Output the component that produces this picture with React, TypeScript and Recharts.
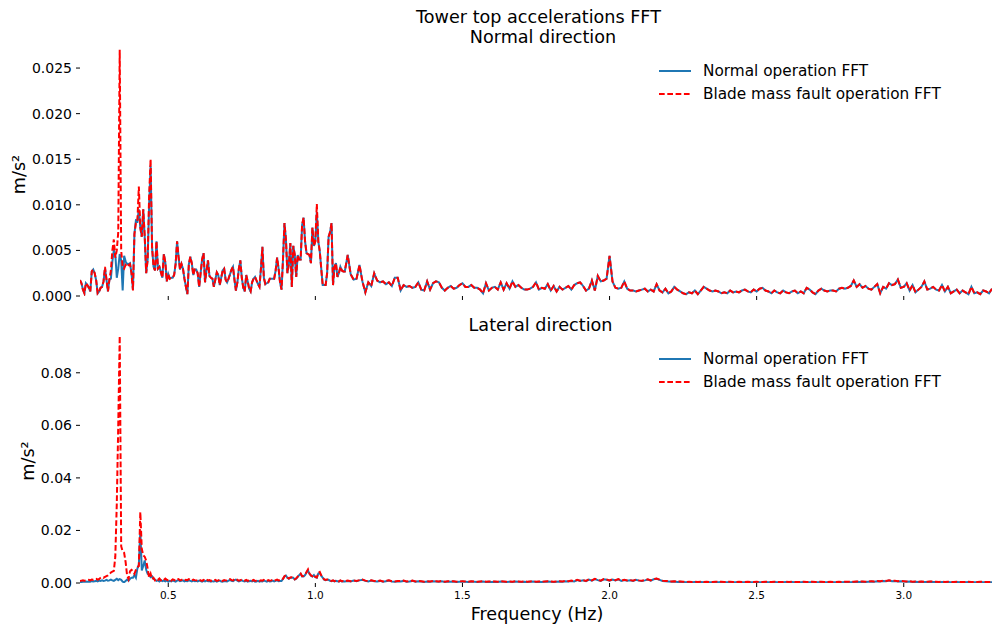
import { LineChart, Line, XAxis, YAxis, Legend } from 'recharts';

// FFT bins: 0.005 Hz up to 1.10 Hz, then 0.01 Hz up to 3.30 Hz
const FINE_START = 0.2;
const FINE_STEP = 0.005;
const FINE_COUNT = 181;
const COARSE_START = 1.11;
const COARSE_STEP = 0.01;
const COARSE_COUNT = 220;

const FREQ: number[] = [
  ...Array.from({ length: FINE_COUNT }, (_, i) => +(FINE_START + i * FINE_STEP).toFixed(3)),
  ...Array.from({ length: COARSE_COUNT }, (_, i) => +(COARSE_START + i * COARSE_STEP).toFixed(2)),
];

const X_TICKS = [0.5, 1.0, 1.5, 2.0, 2.5, 3.0];
const TOP_Y_TICKS = [0, 5, 10, 15, 20, 25];
const LAT_Y_TICKS = [0, 20, 40, 60, 80];

// amplitudes in 1e-3 m/s²
const TOP_NORMAL = [
  1.75, 1.4, 0.7, 0.3, 1.4, 1.2, 0.9, 0.5, 2.7, 2.9,
  2.5, 1.7, 0.3, 0.5, 0.9, 1.0, 1.6, 3.0, 1.8, 0.5,
  1.8, 1.9, 3.8, 5.0, 4.6, 2.0, 3.0, 4.6, 3.9, 0.6,
  4.4, 3.8, 3.5, 3.5, 3.6, 2.5, 0.7, 6.8, 8.3, 8.2,
  9.5, 7.5, 6.5, 9.5, 6.5, 2.5, 4.0, 10.0, 14.3, 5.3,
  3.2, 2.8, 6.0, 3.0, 3.2, 2.6, 2.0, 4.6, 3.7, 1.6,
  2.4, 1.9, 2.0, 2.0, 2.3, 3.5, 6.0, 4.3, 2.9, 3.5,
  3.0, 1.9, 1.0, 0.2, 3.5, 4.3, 3.6, 2.3, 2.9, 2.9,
  2.5, 1.0, 2.5, 4.0, 4.7, 1.5, 2.8, 3.9, 2.2, 2.0,
  1.9, 1.0, 1.8, 2.6, 2.3, 1.2, 2.0, 2.8, 3.0, 1.8,
  1.5, 1.9, 2.4, 2.9, 3.2, 1.8, 0.6, 1.5, 3.0, 3.9,
  2.0, 0.9, 0.5, 2.3, 1.6, 0.8, 0.5, 1.5, 1.9, 2.1,
  1.7, 1.3, 1.0, 3.0, 5.4, 2.0, 1.3, 1.4, 1.5, 1.9,
  1.9, 1.9, 1.9, 2.8, 4.2, 3.0, 1.5, 0.7, 4.0, 8.0,
  6.2, 2.5, 3.5, 5.8, 1.0, 5.5, 4.5, 2.1, 4.5, 4.0,
  4.0, 7.8, 8.6, 6.0, 4.7, 4.6, 4.5, 3.6, 7.5, 5.5,
  6.0, 9.2, 6.0, 4.9, 3.0, 1.2, 1.2, 1.2, 2.5, 6.5,
  7.0, 8.0, 1.2, 3.2, 3.6, 2.1, 2.5, 3.2, 2.8, 2.7, 2.7,
  // 1.11 Hz onwards
  4.5, 2.4, 1.8, 1.9, 3.4, 1.6, 0.4, 1.5, 1.1, 2.5,
  1.7, 1.5, 1.6, 1.3, 1.5, 1.1, 2.0, 2.0, 0.6, 1.2,
  1.0, 1.1, 0.9, 1.0, 1.5, 0.7, 0.6, 1.6, 0.7, 1.4,
  1.6, 1.5, 0.9, 0.6, 0.9, 1.1, 0.8, 0.9, 1.2, 1.4,
  1.0, 1.0, 1.2, 0.9, 0.9, 0.7, 0.3, 1.4, 0.6, 0.9,
  1.0, 0.7, 1.5, 0.7, 1.4, 0.8, 1.6, 1.0, 1.2, 0.9,
  0.7, 0.7, 0.8, 1.0, 1.5, 0.7, 0.9, 0.8, 1.3, 0.6,
  1.1, 0.5, 1.0, 0.7, 0.9, 1.1, 0.7, 1.2, 1.4, 1.5,
  1.1, 0.6, 0.8, 1.7, 0.6, 2.2, 1.6, 1.7, 1.9, 4.4,
  1.6, 0.9, 0.8, 0.9, 1.6, 0.8, 0.6, 0.6, 0.5, 0.6,
  0.7, 0.8, 0.5, 0.7, 0.5, 1.3, 0.6, 0.4, 0.8, 0.3,
  0.5, 1.0, 0.7, 0.5, 0.3, 0.2, 0.4, 0.3, 0.6, 0.2,
  0.6, 1.0, 0.8, 0.6, 0.5, 0.6, 0.5, 0.3, 0.4, 0.3,
  0.6, 0.4, 0.5, 0.4, 0.6, 0.7, 0.5, 0.4, 0.7, 0.5,
  0.8, 0.9, 0.6, 0.5, 0.3, 0.6, 0.4, 0.3, 0.6, 0.4,
  0.3, 0.5, 0.6, 0.3, 0.5, 0.3, 0.9, 0.7, 0.4, 0.2,
  0.6, 0.8, 0.6, 0.5, 0.6, 0.6, 0.5, 0.8, 0.9, 0.8,
  0.9, 1.1, 1.7, 1.0, 1.3, 0.9, 1.1, 0.8, 0.7, 1.0,
  1.3, 0.3, 1.0, 0.8, 1.4, 1.2, 1.3, 1.8, 0.9, 1.0,
  1.4, 0.6, 1.2, 0.4, 0.7, 1.0, 1.6, 0.7, 0.8, 1.0,
  0.7, 0.6, 1.2, 0.5, 1.0, 0.3, 0.5, 0.7, 0.3, 0.6,
  0.4, 0.2, 1.0, 0.3, 0.4, 0.2, 0.6, 0.5, 0.3, 0.8,
];

const TOP_FAULT = [
  1.75, 1.4, 0.7, 0.3, 1.4, 1.2, 0.9, 0.5, 2.7, 2.9,
  2.5, 1.7, 0.3, 0.5, 0.9, 1.0, 1.6, 3.2, 1.8, 0.5,
  1.8, 2.8, 5.0, 6.2, 4.2, 5.0, 7.0, 27.0, 5.0, 3.2,
  3.0, 3.4, 3.2, 3.4, 3.5, 2.5, 0.6, 6.8, 8.0, 8.2,
  12.0, 7.5, 6.5, 9.5, 6.5, 2.5, 4.0, 11.0, 15.0, 5.3,
  3.2, 2.8, 6.0, 3.0, 3.2, 2.6, 2.0, 4.6, 3.7, 1.6,
  2.4, 1.9, 2.0, 2.0, 2.3, 3.5, 6.0, 4.3, 2.9, 3.5,
  3.0, 1.9, 1.0, 0.2, 3.5, 4.3, 3.6, 2.3, 2.9, 2.9,
  2.5, 1.0, 2.5, 4.0, 4.7, 1.5, 2.8, 3.9, 2.2, 2.0,
  1.9, 1.0, 1.8, 2.6, 2.3, 1.2, 2.0, 2.8, 3.0, 1.8,
  1.5, 1.9, 2.4, 2.9, 3.2, 1.8, 0.6, 1.5, 3.0, 3.9,
  2.0, 0.9, 0.5, 2.3, 1.6, 0.8, 0.5, 1.5, 1.9, 2.1,
  1.7, 1.3, 1.0, 3.0, 5.4, 2.0, 1.3, 1.4, 1.5, 1.9,
  1.9, 1.9, 1.9, 2.8, 4.2, 3.0, 1.5, 0.7, 4.0, 8.0,
  6.2, 2.5, 3.5, 5.8, 1.0, 5.5, 4.5, 2.1, 4.5, 4.0,
  4.0, 7.8, 8.6, 6.0, 4.7, 4.6, 4.5, 3.6, 7.5, 5.5,
  6.0, 10.1, 6.0, 4.9, 3.0, 1.2, 1.2, 1.2, 2.5, 6.5,
  7.0, 8.0, 1.2, 3.2, 3.6, 2.1, 2.5, 3.2, 2.8, 2.7, 2.7,
  // 1.11 Hz onwards
  4.5, 2.4, 1.8, 1.9, 3.4, 1.6, 0.4, 1.5, 1.1, 2.5,
  1.7, 1.5, 1.6, 1.3, 1.5, 1.1, 2.0, 2.0, 0.6, 1.2,
  1.0, 1.1, 0.9, 1.0, 1.5, 0.7, 0.6, 1.6, 0.7, 1.4,
  1.6, 1.5, 0.9, 0.6, 0.9, 1.1, 0.8, 0.9, 1.2, 1.4,
  1.0, 1.0, 1.2, 0.9, 0.9, 0.7, 0.3, 1.4, 0.6, 0.9,
  1.0, 0.7, 1.5, 0.7, 1.4, 0.8, 1.6, 1.0, 1.2, 0.9,
  0.7, 0.7, 0.8, 1.0, 1.5, 0.7, 0.9, 0.8, 1.3, 0.6,
  1.1, 0.5, 1.0, 0.7, 0.9, 1.1, 0.7, 1.2, 1.4, 1.5,
  1.1, 0.6, 0.8, 1.7, 0.6, 2.2, 1.6, 1.7, 1.9, 4.4,
  1.6, 0.9, 0.8, 0.9, 1.6, 0.8, 0.6, 0.6, 0.5, 0.6,
  0.7, 0.8, 0.5, 0.7, 0.5, 1.3, 0.6, 0.4, 0.8, 0.3,
  0.5, 1.0, 0.7, 0.5, 0.3, 0.2, 0.4, 0.3, 0.6, 0.2,
  0.6, 1.0, 0.8, 0.6, 0.5, 0.6, 0.5, 0.3, 0.4, 0.3,
  0.6, 0.4, 0.5, 0.4, 0.6, 0.7, 0.5, 0.4, 0.7, 0.5,
  0.8, 0.9, 0.6, 0.5, 0.3, 0.6, 0.4, 0.3, 0.6, 0.4,
  0.3, 0.5, 0.6, 0.3, 0.5, 0.3, 0.9, 0.7, 0.4, 0.2,
  0.6, 0.8, 0.6, 0.5, 0.6, 0.6, 0.5, 0.8, 0.9, 0.8,
  0.9, 1.1, 1.7, 1.0, 1.3, 0.9, 1.1, 0.8, 0.7, 1.0,
  1.3, 0.3, 1.0, 0.8, 1.4, 1.2, 1.3, 1.8, 0.9, 1.0,
  1.4, 0.6, 1.2, 0.4, 0.7, 1.0, 1.6, 0.7, 0.8, 1.0,
  0.7, 0.6, 1.2, 0.5, 1.0, 0.3, 0.5, 0.7, 0.3, 0.6,
  0.4, 0.2, 1.0, 0.3, 0.4, 0.2, 0.6, 0.5, 0.3, 0.8,
];

const LAT_NORMAL = [
  0.4, 0.4, 0.5, 0.5, 0.6, 0.5, 0.6, 0.5, 0.7, 0.6,
  0.7, 0.8, 0.6, 0.9, 0.8, 1.0, 0.8, 0.9, 1.2, 0.9,
  1.0, 1.3, 1.0, 0.8, 1.2, 1.6, 1.1, 1.5, 1.2, 0.5,
  0.3, 0.8, 1.3, 0.9, 1.6, 2.0, 2.0, 3.0, 2.0, 5.5,
  7.0, 20.0, 4.8, 6.5, 8.6, 5.0, 3.5, 3.2, 2.2, 2.5,
  1.5, 1.3, 0.8, 1.0, 0.6, 1.1, 0.7, 0.9, 0.6, 1.0,
  0.5, 0.8, 0.6, 1.0, 0.7, 0.5, 0.9, 1.1, 0.7, 0.8,
  1.0, 0.6, 0.8, 0.7, 1.0, 0.8, 0.6, 0.9, 0.7, 0.8,
  0.6, 0.9, 0.7, 0.5, 0.8, 0.6, 0.9, 0.7, 0.8, 0.5,
  0.7, 0.6, 0.8, 0.5, 0.7, 0.9, 0.6, 0.5, 0.8, 0.7,
  0.6, 0.9, 1.2, 0.8, 0.7, 1.1, 1.3, 0.9, 0.6, 0.8,
  1.0, 0.7, 0.6, 0.9, 0.5, 0.7, 0.8, 0.6, 0.9, 0.5,
  0.6, 0.8, 0.5, 0.7, 0.6, 0.9, 0.7, 0.5, 0.8, 0.6,
  0.7, 0.9, 0.6, 0.8, 1.0, 0.7, 0.8, 0.8, 1.5, 2.5,
  2.8, 2.0, 1.6, 2.0, 2.0, 2.0, 1.3, 1.6, 2.3, 3.0,
  3.5, 2.5, 2.5, 3.0, 4.0, 4.8, 3.5, 2.8, 2.5, 3.0,
  2.2, 2.0, 3.6, 3.8, 2.8, 2.0, 1.3, 1.1, 1.2, 1.2,
  0.8, 0.7, 0.9, 0.6, 0.8, 0.7, 0.5, 0.9, 0.6, 0.7, 0.6,
  // 1.11 Hz onwards
  0.8, 0.6, 0.9, 0.7, 1.0, 1.2, 0.8, 0.6, 0.9, 0.7,
  0.6, 0.8, 0.5, 0.7, 0.9, 0.6, 0.5, 0.7, 0.6, 0.8,
  0.5, 0.6, 0.8, 0.5, 0.7, 0.6, 0.4, 0.6, 0.5, 0.7,
  0.6, 0.5, 0.7, 0.4, 0.6, 0.5, 0.6, 0.4, 0.5, 0.6,
  0.5, 0.4, 0.6, 0.5, 0.4, 0.5, 0.6, 0.4, 0.5, 0.4,
  0.5, 0.4, 0.6, 0.5, 0.4, 0.5, 0.4, 0.6, 0.5, 0.4,
  0.5, 0.4, 0.5, 0.6, 0.4, 0.5, 0.4, 0.5, 0.6, 0.5,
  0.4, 0.5, 0.6, 0.5, 0.7, 0.6, 0.8, 0.6, 1.1, 0.8,
  1.0, 0.7, 1.3, 0.9, 1.5, 1.1, 0.8, 1.4, 1.2, 0.9,
  1.3, 1.0, 1.4, 0.8, 1.1, 0.9, 1.0, 0.8, 1.2, 0.9,
  0.8, 1.0, 1.3, 0.9, 1.4, 1.6, 1.2, 0.8, 0.7, 0.6,
  0.5, 0.6, 0.4, 0.5, 0.4, 0.3, 0.4, 0.3, 0.4, 0.3,
  0.4, 0.3, 0.4, 0.3, 0.3, 0.4, 0.3, 0.4, 0.3, 0.3,
  0.4, 0.3, 0.3, 0.4, 0.3, 0.3, 0.4, 0.3, 0.3, 0.4,
  0.3, 0.3, 0.4, 0.3, 0.3, 0.4, 0.3, 0.3, 0.3, 0.4,
  0.3, 0.4, 0.3, 0.3, 0.3, 0.4, 0.3, 0.3, 0.4, 0.3,
  0.3, 0.4, 0.3, 0.3, 0.4, 0.3, 0.3, 0.4, 0.3, 0.4,
  0.4, 0.3, 0.4, 0.5, 0.4, 0.5, 0.4, 0.5, 0.6, 0.5,
  0.7, 0.6, 0.8, 0.7, 0.9, 0.7, 0.8, 0.6, 0.7, 0.6,
  0.5, 0.6, 0.4, 0.5, 0.4, 0.5, 0.4, 0.4, 0.5, 0.4,
  0.4, 0.3, 0.4, 0.3, 0.4, 0.3, 0.3, 0.4, 0.3, 0.3,
  0.3, 0.4, 0.3, 0.3, 0.3, 0.4, 0.3, 0.3, 0.3, 0.3,
];

const LAT_FAULT = [
  0.8, 0.9, 1.0, 0.9, 1.0, 1.1, 1.2, 1.0, 1.3, 1.2,
  1.4, 1.6, 1.3, 1.5, 2.0, 2.3, 2.0, 2.3, 2.6, 2.9,
  3.3, 4.0, 4.3, 4.6, 10.0, 30.0, 60.0, 94.0, 14.0, 12.0,
  11.5, 8.0, 3.0, 1.5, 4.5, 5.0, 4.5, 3.5, 5.0, 6.0,
  6.5, 27.0, 13.0, 10.5, 10.0, 8.5, 5.5, 2.0, 3.5, 1.5,
  2.0, 1.0, 1.6, 1.2, 1.7, 1.0, 1.4, 1.1, 1.7, 1.2,
  1.1, 1.3, 0.9, 1.4, 1.2, 0.8, 1.3, 1.5, 1.0, 1.2,
  1.4, 1.0, 1.2, 1.1, 1.5, 1.2, 0.9, 1.3, 1.1, 1.0,
  0.9, 1.3, 1.0, 0.8, 1.2, 0.9, 1.3, 1.0, 1.1, 0.8,
  1.0, 0.9, 1.2, 0.8, 1.0, 1.3, 0.9, 0.8, 1.1, 1.0,
  0.9, 1.2, 1.5, 1.1, 1.0, 1.4, 1.6, 1.2, 0.9, 1.1,
  1.3, 1.0, 0.9, 1.2, 0.8, 1.0, 1.1, 0.9, 1.2, 0.8,
  0.9, 1.1, 0.8, 1.0, 0.9, 1.2, 1.0, 0.8, 1.1, 0.9,
  1.0, 1.2, 0.9, 1.1, 1.3, 1.0, 1.1, 1.0, 1.6, 2.6,
  2.9, 2.1, 1.7, 2.1, 2.2, 2.1, 1.4, 1.8, 2.4, 3.2,
  3.6, 2.6, 2.7, 3.2, 4.2, 5.2, 3.6, 2.9, 2.6, 3.1,
  2.3, 2.1, 3.9, 4.2, 2.9, 2.1, 1.4, 1.2, 1.3, 1.3,
  0.9, 0.8, 1.0, 0.7, 0.9, 0.8, 0.6, 1.0, 0.7, 0.8, 0.7,
  // 1.11 Hz onwards
  0.9, 0.7, 1.0, 0.8, 1.1, 1.3, 0.9, 0.7, 1.0, 0.8,
  0.7, 0.9, 0.6, 0.8, 1.0, 0.7, 0.6, 0.8, 0.7, 0.9,
  0.6, 0.7, 0.9, 0.6, 0.8, 0.7, 0.5, 0.7, 0.6, 0.8,
  0.7, 0.6, 0.8, 0.5, 0.7, 0.6, 0.7, 0.5, 0.6, 0.7,
  0.6, 0.5, 0.7, 0.6, 0.5, 0.6, 0.7, 0.5, 0.6, 0.5,
  0.6, 0.5, 0.7, 0.6, 0.5, 0.6, 0.5, 0.7, 0.6, 0.5,
  0.6, 0.5, 0.6, 0.7, 0.5, 0.6, 0.5, 0.6, 0.7, 0.6,
  0.5, 0.6, 0.7, 0.6, 0.8, 0.7, 0.9, 0.7, 1.2, 0.9,
  1.1, 0.8, 1.4, 1.0, 1.6, 1.2, 0.9, 1.5, 1.3, 1.0,
  1.4, 1.1, 1.5, 0.9, 1.2, 1.0, 1.1, 0.9, 1.3, 1.0,
  0.9, 1.1, 1.4, 1.0, 1.5, 1.7, 1.3, 0.9, 0.8, 0.7,
  0.6, 0.7, 0.5, 0.6, 0.5, 0.4, 0.5, 0.4, 0.5, 0.4,
  0.5, 0.4, 0.5, 0.4, 0.4, 0.5, 0.4, 0.5, 0.4, 0.4,
  0.5, 0.4, 0.4, 0.5, 0.4, 0.4, 0.5, 0.4, 0.4, 0.5,
  0.4, 0.4, 0.5, 0.4, 0.4, 0.5, 0.4, 0.4, 0.4, 0.5,
  0.4, 0.5, 0.4, 0.4, 0.4, 0.5, 0.4, 0.4, 0.5, 0.4,
  0.4, 0.5, 0.4, 0.4, 0.5, 0.4, 0.4, 0.5, 0.4, 0.5,
  0.5, 0.4, 0.5, 0.6, 0.5, 0.6, 0.5, 0.6, 0.7, 0.6,
  0.8, 0.7, 0.9, 0.8, 1.0, 0.8, 0.9, 0.7, 0.8, 0.7,
  0.6, 0.7, 0.5, 0.6, 0.5, 0.6, 0.5, 0.5, 0.6, 0.5,
  0.5, 0.4, 0.5, 0.4, 0.5, 0.4, 0.4, 0.5, 0.4, 0.4,
  0.4, 0.5, 0.4, 0.4, 0.4, 0.5, 0.4, 0.4, 0.4, 0.4,
];

const NORMAL_NAME = 'Normal operation FFT';
const FAULT_NAME = 'Blade mass fault operation FFT';
const LEGEND_ORDER = [NORMAL_NAME, FAULT_NAME];

const BLUE = '#1f77b4';
const RED = '#ff0000';
const DASH = '5.7 2.6';
const FONT = '"DejaVu Sans", sans-serif';

const topRows = FREQ.map((f, i) => ({ f, normal: TOP_NORMAL[i] ?? null, fault: TOP_FAULT[i] ?? null }));
const latRows = FREQ.map((f, i) => ({ f, normal: LAT_NORMAL[i] ?? null, fault: LAT_FAULT[i] ?? null }));

const renderLegend = (props: any) => {
  const items = [...(props.payload || [])].sort(
    (a: any, b: any) => LEGEND_ORDER.indexOf(a.value) - LEGEND_ORDER.indexOf(b.value)
  );
  return (
    <div style={{ fontFamily: FONT, fontSize: 15.3, color: '#000' }}>
      {items.map((entry: any) => (
        <div key={entry.value} style={{ display: 'flex', alignItems: 'center', height: 22.5, whiteSpace: 'nowrap' }}>
          <svg width={32} height={10} style={{ marginRight: 12, display: 'block' }}>
            <line
              x1={0}
              y1={5}
              x2={32}
              y2={5}
              stroke={entry.color}
              strokeWidth={2}
              strokeDasharray={entry.payload?.strokeDasharray}
            />
          </svg>
          <span>{entry.value}</span>
        </div>
      ))}
    </div>
  );
};

function FftPanel({ rows, height, marginTop, axisHeight, yMax, yTicks, yDigits, showXLabels, legendTop }: any) {
  return (
    <LineChart width={992} height={height} data={rows} margin={{ top: marginTop, right: 0, bottom: 0, left: 0 }}>
      <XAxis
        dataKey="f"
        type="number"
        domain={[0.2, 3.3]}
        ticks={X_TICKS}
        allowDataOverflow
        axisLine={false}
        tickSize={4}
        tickMargin={5}
        height={axisHeight}
        tickLine={{ stroke: '#000' }}
        tick={{ fontSize: 10.5, fill: '#000', fontFamily: FONT }}
        tickFormatter={(v: number) => (showXLabels ? v.toFixed(1) : '')}
      />
      <YAxis
        type="number"
        domain={[0, yMax]}
        ticks={yTicks}
        allowDataOverflow
        width={80}
        axisLine={false}
        tickSize={4}
        tickMargin={4}
        tickLine={{ stroke: '#000' }}
        tick={{ fontSize: 14, fill: '#000', fontFamily: FONT }}
        tickFormatter={(v: number) => (v / 1000).toFixed(yDigits)}
      />
      <Line
        dataKey="normal"
        name={NORMAL_NAME}
        type="linear"
        stroke={BLUE}
        strokeWidth={2}
        dot={false}
        activeDot={false}
        isAnimationActive={false}
      />
      <Line
        dataKey="fault"
        name={FAULT_NAME}
        type="linear"
        stroke={RED}
        strokeWidth={2}
        strokeDasharray={DASH}
        dot={false}
        activeDot={false}
        isAnimationActive={false}
      />
      <Legend
        layout="vertical"
        align="center"
        verticalAlign="middle"
        content={renderLegend}
        wrapperStyle={{ left: 659, top: legendTop, width: 333 }}
      />
    </LineChart>
  );
}

export default function App() {
  return (
    <div
      style={{
        position: 'absolute',
        left: 0,
        top: 0,
        width: 992,
        height: 628,
        background: '#fff',
        fontFamily: FONT,
        overflow: 'hidden',
      }}
    >
      <div style={{ position: 'absolute', left: 0, top: 0 }}>
        <FftPanel
          rows={topRows}
          height={310}
          marginTop={48}
          axisHeight={14}
          yMax={27.2}
          yTicks={TOP_Y_TICKS}
          yDigits={3}
          showXLabels={false}
          legendTop={60}
        />
      </div>
      <div style={{ position: 'absolute', left: 0, top: 310 }}>
        <FftPanel
          rows={latRows}
          height={318}
          marginTop={26}
          axisHeight={45}
          yMax={94}
          yTicks={LAT_Y_TICKS}
          yDigits={2}
          showXLabels={true}
          legendTop={38}
        />
      </div>

      {/* titles and axis labels */}
      <svg
        width={992}
        height={628}
        style={{ position: 'absolute', left: 0, top: 0, pointerEvents: 'none' }}
        fontFamily={FONT}
        fill="#000"
      >
        <text x={538.5} y={22.5} fontSize={17.6} textAnchor="middle">Tower top accelerations FFT</text>
        <text x={543} y={42.5} fontSize={17.6} textAnchor="middle">Normal direction</text>
        <text x={540.5} y={330.5} fontSize={17.6} textAnchor="middle">Lateral direction</text>
        <text x={537} y={620} fontSize={17.6} textAnchor="middle">Frequency (Hz)</text>
        <text transform="translate(25,174.5) rotate(-90)" fontSize={17.6} textAnchor="middle">m/s²</text>
        <text transform="translate(34,461) rotate(-90)" fontSize={17.6} textAnchor="middle">m/s²</text>
      </svg>
    </div>
  );
}
